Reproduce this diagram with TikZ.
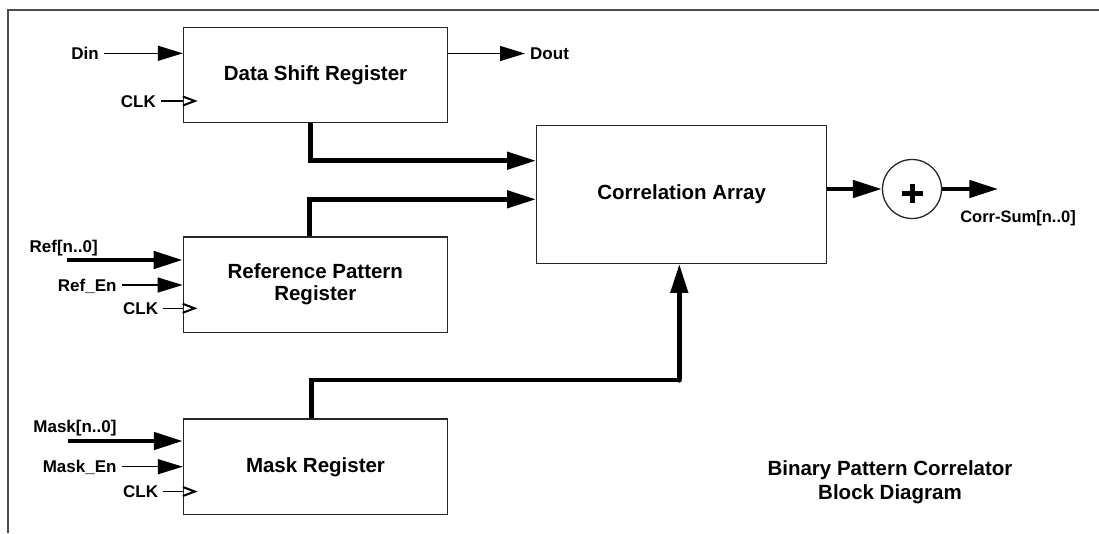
\documentclass[tikz,border=0pt]{standalone}
\usepackage{fontspec}
\setmainfont{Liberation Sans}
\usetikzlibrary{arrows.meta,calc}

\begin{document}
\begin{tikzpicture}[x=1pt,y=-1pt,
  block/.style={draw=black!85, line width=1.3pt, fill=white, inner sep=0pt,
    font=\fontsize{20.5}{22}\selectfont\bfseries, align=center},
  regbox/.style={block, minimum width=264pt, minimum height=95.5pt},
  lbl/.style={inner xsep=5pt, inner ysep=0pt, text height=12pt, text depth=0pt,
    font=\fontsize{17}{20}\selectfont\bfseries},
  sig/.style={line width=1.3pt, -{Triangle[length=25pt,width=15pt]}},
  clkline/.style={line width=1.3pt},
  clkmark/.style={line width=2pt, line join=miter},
  bus/.style={line width=4.6pt},
  busarrow/.style={bus, -{Triangle[length=29pt,width=17pt]}},
  frame/.style={line width=1.8pt, draw=black!70}
]
\useasboundingbox (0,0) rectangle (1099,533);

% page frame (top and left edges)
\draw[frame] (1099,10) -- (8.3,10) -- (8.3,533);

% blocks
\node[regbox] (dsr) at (315.5,75) {Data Shift Register};
\node[regbox] (rpr) at (315.3,284.7) {Reference Pattern\\Register};
\node[regbox] (mr)  at (315.5,466.8) {Mask Register};
\node[block, minimum width=290pt, minimum height=137.6pt] (ca) at (681.7,194.5) {Correlation Array};
\node[draw=black!85, line width=1.3pt, circle, minimum size=59pt, inner sep=0pt] (sum) at (912,189) {};
\draw[line width=5pt] ($(sum.center)+(-10.5,4.3)$) -- ++(21,0);
\draw[line width=5pt] ($(sum.center)+(0,-5.5)$) -- ++(0,19.5);

% Data Shift Register ports
\node[lbl, anchor=east] (din) at (104,53.3) {Din};
\draw[sig] (din.east) -- (din.east -| dsr.west);
\node[lbl, anchor=east] (clk1) at (161,101) {CLK};
\draw[clkline] (clk1.east) -- (clk1.east -| dsr.west);
\coordinate (ck1) at (clk1.east -| dsr.west);
\draw[clkmark] (ck1) ++(0,-4.5) -- ++(12,4.5) -- ++(-12,4.5);
\node[lbl, anchor=west] (dout) at (525,53.5) {Dout};
\draw[sig] (dout.west -| dsr.east) -- (dout.west);

% Reference Pattern Register ports
\node[lbl] (ref) at (63.7,246) {Ref[n..0]};
\coordinate (refin) at (66.7,260);
\draw[busarrow] (refin) -- (refin -| rpr.west);
\node[lbl, anchor=east] (refen) at (121.7,285) {Ref\_En};
\draw[sig] (refen.east) -- (refen.east -| rpr.west);
\node[lbl, anchor=east] (clk2) at (163.3,308.3) {CLK};
\draw[clkline] (clk2.east) -- (clk2.east -| rpr.west);
\coordinate (ck2) at (clk2.east -| rpr.west);
\draw[clkmark] (ck2) ++(0,-4.5) -- ++(12,4.5) -- ++(-12,4.5);

% Mask Register ports
\node[lbl] (mask) at (75,426) {Mask[n..0]};
\coordinate (maskin) at (68.3,441);
\draw[busarrow] (maskin) -- (maskin -| mr.west);
\node[lbl, anchor=east] (masken) at (121.7,466.7) {Mask\_En};
\draw[sig] (masken.east) -- (masken.east -| mr.west);
\node[lbl, anchor=east] (clk3) at (163.3,491.5) {CLK};
\draw[clkline] (clk3.east) -- (clk3.east -| mr.west);
\coordinate (ck3) at (clk3.east -| mr.west);
\draw[clkmark] (ck3) ++(0,-4.5) -- ++(12,4.5) -- ++(-12,4.5);

% buses into the correlation array
\draw[busarrow] ([xshift=-4.8pt]dsr.south) |- ([yshift=33.8pt]ca.west);
\draw[busarrow] ([xshift=-6pt]rpr.north) |- ([yshift=-4.8pt]ca.west);
\coordinate (mj) at (679.3,380);
\draw[bus] ([xshift=-3.8pt]mr.north) |- (mj);
\draw[busarrow] ([yshift=1.5pt]mj) -- (mj |- ca.south);
\fill (mj) circle (2.6pt);

% summation and output
\draw[busarrow] (sum.west -| ca.east) -- (sum.west);
\coordinate (out) at (998.3,189);
\draw[busarrow] (sum.east) -- (out);
\node[lbl, font=\fontsize{16.5}{20}\selectfont\bfseries] (corrsum) at (1018,216) {Corr-Sum[n..0]};

% caption
\node[align=center, font=\fontsize{20.5}{24.3}\selectfont\bfseries] (title) at (890,482)
  {Binary Pattern Correlator\\Block Diagram};
\end{tikzpicture}
\end{document}
